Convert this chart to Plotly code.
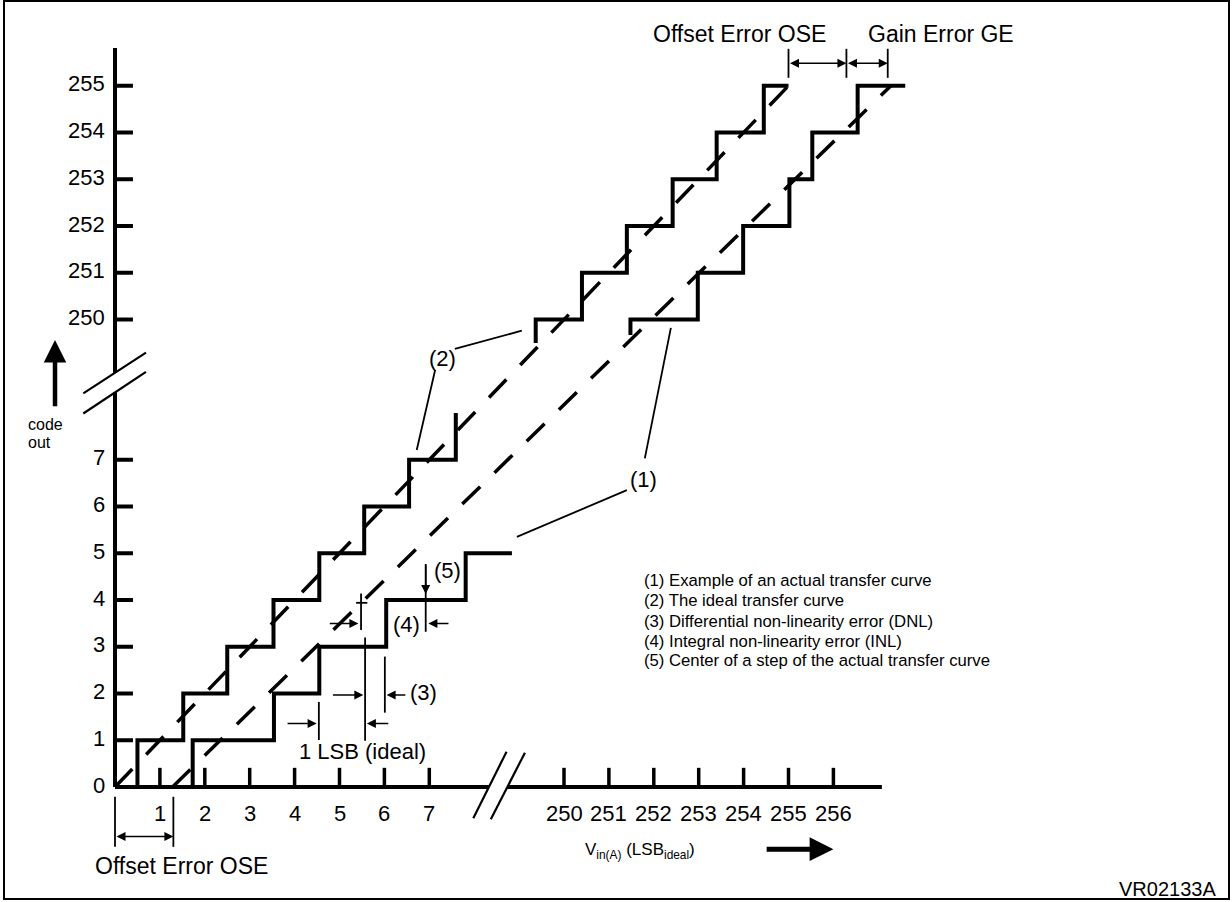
import plotly.graph_objects as go

# ---------------- data ----------------
# Values above the axis breaks are real LSB / code values; they are shown
# shifted by BREAK_SHIFT so the broken axes stay compact.
BREAK_SHIFT = 240

y_ticks_low = [0, 1, 2, 3, 4, 5, 6, 7]
y_ticks_high = [250, 251, 252, 253, 254, 255]
x_ticks_low = [1, 2, 3, 4, 5, 6, 7]
x_ticks_high = [250, 251, 252, 253, 254, 255, 256]

# (2) ideal transfer curve: transition inputs (LSB) and code after each transition
ideal_low_start = (0.0, 0)
ideal_low_edges = [0.5, 1.52, 2.5, 3.53, 4.55, 5.55, 6.55, 7.59]
ideal_low_codes = [1, 2, 3, 4, 5, 6, 7, 8]
ideal_low_end = 7.59

ideal_high_start = (249.37, 249.5)
ideal_high_edges = [249.37, 250.4, 251.4, 252.42, 253.4, 254.45]
ideal_high_codes = [250, 251, 252, 253, 254, 255]
ideal_high_end = 255.0

# (1) example of an actual transfer curve
actual_low_start = (1.73, 0)
actual_low_edges = [1.73, 3.54, 4.55, 6.04, 7.81]
actual_low_codes = [1, 2, 3, 4, 5]
actual_low_end = 8.84

actual_high_start = (251.48, 249.67)
actual_high_edges = [251.48, 252.98, 253.99, 255.02, 255.53, 256.54]
actual_high_codes = [250, 251, 252, 253, 254, 255]
actual_high_end = 257.6

# straight reference lines through the step centres
ideal_line_x = [0.0, 255.0]
ideal_line_y = [0.0, 255.0]
actual_line_x = [1.28, 257.28]
actual_line_y = [0.0, 255.0]

legend_lines = [
    "(1) Example of an actual transfer curve",
    "(2) The ideal transfer curve",
    "(3) Differential non-linearity error (DNL)",
    "(4) Integral non-linearity error (INL)",
    "(5) Center of a step of the actual transfer curve",
]


def d(v):
    """map a real value to the displayed (broken-axis) coordinate"""
    return v - BREAK_SHIFT if v >= 200 else v


def staircase(start, edges, codes, end):
    xs, ys = [d(start[0])], [d(start[1])]
    level = start[1]
    for e, c in zip(edges, codes):
        xs += [d(e), d(e)]
        ys += [d(level), d(c)]
        level = c
    xs.append(d(end))
    ys.append(d(level))
    return xs, ys


FONT = "Liberation Sans, Arial, sans-serif"
BLACK = "#000000"

fig = go.Figure()


def line(xs, ys, width, dash=None):
    fig.add_trace(go.Scatter(
        x=xs, y=ys, mode="lines", hoverinfo="skip", showlegend=False,
        line=dict(color=BLACK, width=width, dash=dash, shape="linear"),
    ))


# ---- axes (broken) ----
line([0, 0, None, 0, 0], [0, 8.445, None, 8.86, 15.81], 4)
line([0, 8.33, None, 8.74, 17.08], [0, 0, None, 0, 0], 4)
# break marks
line([-0.706, 0.69, None, -0.706, 0.69], [8.42, 9.29, None, 7.99, 8.88], 2.2)
line([7.98, 8.72, None, 8.37, 9.13], [-0.67, 0.755, None, -0.69, 0.734], 2.2)

# tick marks
tx, ty = [], []
for v in y_ticks_low[1:] + y_ticks_high:
    tx += [0, 0.40, None]
    ty += [d(v), d(v), None]
line(tx, ty, 4)
tx, ty = [], []
for v in x_ticks_low + x_ticks_high:
    tx += [d(v), d(v), None]
    ty += [0, 0.41, None]
line(tx, ty, 3.5)

# ---- curves ----
for st in [
    staircase(ideal_low_start, ideal_low_edges, ideal_low_codes, ideal_low_end),
    staircase(ideal_high_start, ideal_high_edges, ideal_high_codes, ideal_high_end),
    staircase(actual_low_start, actual_low_edges, actual_low_codes, actual_low_end),
    staircase(actual_high_start, actual_high_edges, actual_high_codes, actual_high_end),
]:
    line(st[0], st[1], 4)

line([d(v) for v in ideal_line_x], [d(v) for v in ideal_line_y], 3.5, "25px,20px")
line([d(v) for v in actual_line_x], [d(v) for v in actual_line_y], 3.5, "25px,20px")

# ---- thin marker / leader lines ----
thin = [
    # leaders from (2)
    ([7.57, 9.06], [9.37, 9.76]),
    ([7.13, 6.72], [8.92, 7.21]),
    # leaders from (1)
    ([11.80, 12.38], [7.03, 9.82]),
    ([11.40, 8.95], [6.35, 5.35]),
    # top OSE / GE marker lines
    ([15.0, 15.0], [15.17, 15.79]),
    ([16.29, 16.29], [15.17, 15.79]),
    ([17.21, 17.21], [15.17, 15.79]),
    # bottom OSE marker lines
    ([0.0, 0.0], [-0.21, -1.28]),
    ([1.30, 1.30], [-0.21, -1.28]),
    # INL cross
    ([5.48, 5.48], [4.14, 3.36]),
    ([5.37, 5.62], [3.94, 3.94]),
    # (5) centre marker line
    ([6.92, 6.92], [4.77, 3.32]),
    # DNL lines
    ([5.57, 5.57], [3.20, 0.99]),
    ([6.01, 6.01], [2.79, 1.59]),
    # 1 LSB line
    ([4.54, 4.54], [1.82, 1.005]),
]
for xs, ys in thin:
    line(xs, ys, 1.8)

annotations = []


def arrow(xt, yt, xa, ya, width=1.5, size=1.2, both=False):
    annotations.append(dict(
        x=xt, y=yt, ax=xa, ay=ya, xref="x", yref="y", axref="x", ayref="y",
        text="", showarrow=True, arrowhead=2, arrowsize=size, arrowwidth=width,
        arrowcolor=BLACK, arrowside="end+start" if both else "end",
        startarrowhead=2, startarrowsize=size, standoff=0, startstandoff=0,
    ))


# double arrows for offset / gain error
arrow(16.29, 15.48, 15.0, 15.48, both=True)
arrow(17.21, 15.48, 16.29, 15.48, both=True)
arrow(1.30, -1.06, 0.0, -1.06, both=True)
# INL arrows
arrow(5.42, 3.50, 4.75, 3.50)
arrow(6.98, 3.50, 7.46, 3.50)
# (5) arrow
arrow(6.92, 4.13, 6.92, 4.77)
# DNL arrows
arrow(5.53, 1.97, 4.82, 1.97)
arrow(6.05, 1.97, 6.50, 1.97)
# 1 LSB arrows
arrow(4.49, 1.36, 3.81, 1.36)
arrow(5.61, 1.36, 6.12, 1.36)
# big axis-direction arrows
arrow(-1.336, 9.56, -1.336, 8.11, width=4.5, size=1.0)
arrow(16.0, -1.33, 14.48, -1.33, width=5, size=0.95)


def text(x, y, s, size=22, xanchor="center", yanchor="middle"):
    annotations.append(dict(
        x=x, y=y, xref="x", yref="y", text=s, showarrow=False,
        xanchor=xanchor, yanchor=yanchor,
        font=dict(family=FONT, size=size, color=BLACK),
    ))


# tick labels
for v in y_ticks_low + y_ticks_high:
    text(-0.18, d(v) + 0.04, str(v), 22, xanchor="right")
for v in x_ticks_low + x_ticks_high:
    text(d(v), -0.56, str(v), 22)

text(7.30, 9.17, "(2)")
text(11.77, 6.57, "(1)")
text(7.41, 4.64, "(5)")
text(6.50, 3.47, "(4)")
text(6.53, 2.02, "(3)", xanchor="left")
text(5.51, 0.77, "1 LSB (ideal)")
text(13.91, 16.11, "Offset Error OSE", 23)
text(18.39, 16.11, "Gain Error GE", 23)
text(1.49, -1.69, "Offset Error OSE", 23)
text(11.69, -1.37, "V<sub>in(A)</sub> (LSB<sub>ideal</sub>)", 17)
text(23.43, -2.18, "VR02133A", 20)
text(-1.98, 7.76, "code", 16, xanchor="left")
text(-1.98, 7.36, "out", 16, xanchor="left")

legend_y = [4.41, 3.985, 3.55, 3.12, 2.70]
for s, yy in zip(legend_lines, legend_y):
    text(11.73, yy, s, 16.7, xanchor="left")

W, H = 1232, 902
px_x, px_y = 44.9, 46.75
fig.update_layout(
    width=W, height=H,
    margin=dict(l=0, r=0, t=0, b=0),
    paper_bgcolor="white", plot_bgcolor="white",
    xaxis=dict(visible=False, range=[-115 / px_x, (W - 115) / px_x], fixedrange=True),
    yaxis=dict(visible=False, range=[-(H - 787) / px_y, 787 / px_y], fixedrange=True),
    annotations=annotations,
    shapes=[dict(type="rect", xref="paper", yref="paper",
                 x0=4 / W, x1=1229 / W, y0=1 - 899 / H, y1=1 - 1 / H,
                 line=dict(color=BLACK, width=2))],
    showlegend=False,
)

fig.write_html(
    "out.html",
    config={"displayModeBar": False},
    post_script="document.body.style.margin='0px';document.body.style.overflow='hidden';",
)
